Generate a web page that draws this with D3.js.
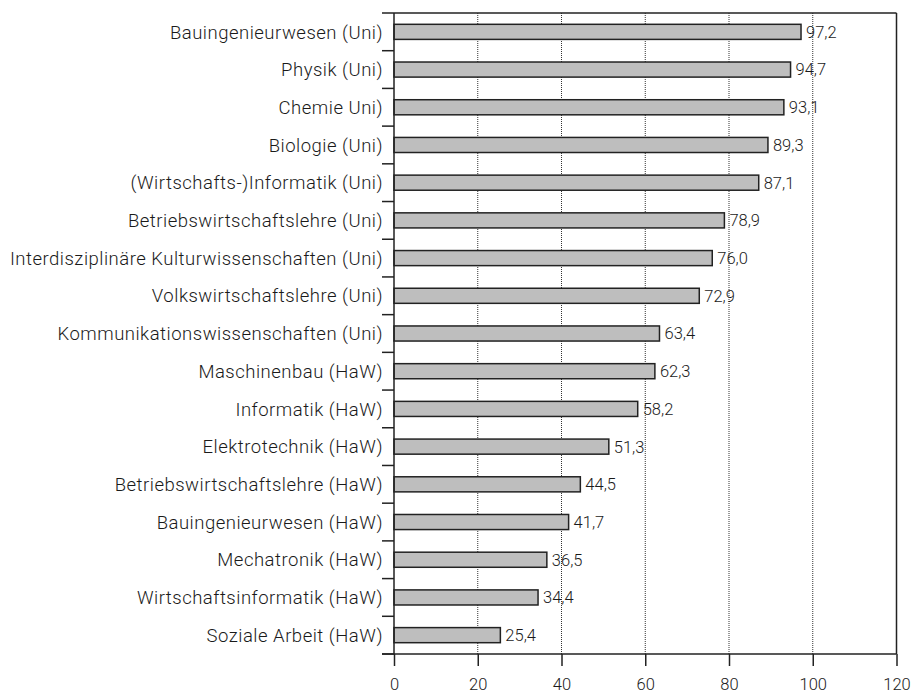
<!DOCTYPE html>
<html>
<head>
<meta charset="utf-8">
<script src="https://cdn.jsdelivr.net/npm/d3@7"></script>
<style>
  body { margin: 0; background: #fff; }
  text { font-family: Roboto, "Liberation Sans", sans-serif; font-weight: 300; fill: #1a1a1a; }
</style>
</head>
<body>
<div class="chart"></div>
<script>
// categories and values, top to bottom
var categories = [
  "Bauingenieurwesen (Uni)",
  "Physik (Uni)",
  "Chemie Uni)",
  "Biologie (Uni)",
  "(Wirtschafts-)Informatik (Uni)",
  "Betriebswirtschaftslehre (Uni)",
  "Interdisziplinäre Kulturwissenschaften (Uni)",
  "Volkswirtschaftslehre (Uni)",
  "Kommunikationswissenschaften (Uni)",
  "Maschinenbau (HaW)",
  "Informatik (HaW)",
  "Elektrotechnik (HaW)",
  "Betriebswirtschaftslehre (HaW)",
  "Bauingenieurwesen (HaW)",
  "Mechatronik (HaW)",
  "Wirtschaftsinformatik (HaW)",
  "Soziale Arbeit (HaW)"
];
var values = [97.2, 94.7, 93.1, 89.3, 87.1, 78.9, 76.0, 72.9, 63.4, 62.3, 58.2, 51.3, 44.5, 41.7, 36.5, 34.4, 25.4];
var xTicks = [0, 20, 40, 60, 80, 100, 120];

var data = categories.map(function(c, i) { return {name: c, value: values[i]}; });

var margin = {top: 13, right: 15.5, bottom: 41, left: 394},
    width = 912 - margin.left - margin.right,
    height = 695 - margin.top - margin.bottom;

var svg = d3.select(".chart").append("svg")
    .attr("width", 912)
    .attr("height", 695)
  .append("g")
    .attr("transform", "translate(" + margin.left + "," + margin.top + ")");

var x = d3.scaleLinear().domain([0, 120]).range([0, width]);
var y = d3.scaleBand().domain(categories).range([0, height]).paddingInner(0.6).paddingOuter(0.3);

var fmt = function(v) { return d3.format(".1f")(v).replace(".", ","); };

// dotted grid lines
svg.selectAll(".grid")
    .data(xTicks.filter(function(t) { return t > 0 && t < 120; }))
  .enter().append("line")
    .attr("x1", function(d) { return x(d); })
    .attr("x2", function(d) { return x(d); })
    .attr("y1", 0)
    .attr("y2", height)
    .attr("stroke", "#333")
    .attr("stroke-width", 1)
    .attr("stroke-dasharray", "1,1");

// bars
svg.selectAll(".bar")
    .data(data)
  .enter().append("rect")
    .attr("x", x(0))
    .attr("y", function(d) { return y(d.name); })
    .attr("width", function(d) { return x(d.value); })
    .attr("height", y.bandwidth())
    .attr("fill", "#bebebe")
    .attr("stroke", "#222")
    .attr("stroke-width", 1.5);

// value labels
svg.selectAll(".val")
    .data(data)
  .enter().append("text")
    .attr("x", function(d) { return x(d.value) + 5; })
    .attr("y", function(d) { return y(d.name) + y.bandwidth() / 2; })
    .attr("dy", "0.36em")
    .attr("font-size", "16.5px")
    .text(function(d) { return fmt(d.value); });

// category labels
svg.selectAll(".cat")
    .data(data)
  .enter().append("text")
    .attr("x", -11)
    .attr("y", function(d) { return y(d.name) + y.bandwidth() / 2; })
    .attr("dy", "0.36em")
    .attr("text-anchor", "end")
    .attr("font-size", "18.5px")
    .attr("letter-spacing", "0.5px")
    .text(function(d) { return d.name; });

// separator ticks between categories on the left
svg.selectAll(".sep")
    .data(d3.range(categories.length + 1))
  .enter().append("line")
    .attr("x1", -12)
    .attr("x2", 0)
    .attr("y1", function(i) { return i * height / categories.length; })
    .attr("y2", function(i) { return i * height / categories.length; })
    .attr("stroke", "#222")
    .attr("stroke-width", 1.5);

// frame: top, right, left, bottom
svg.append("line").attr("x1", 0).attr("x2", width).attr("y1", 0).attr("y2", 0)
    .attr("stroke", "#222").attr("stroke-width", 1.5);
svg.append("line").attr("x1", width).attr("x2", width).attr("y1", 0).attr("y2", height)
    .attr("stroke", "#222").attr("stroke-width", 1.5);
svg.append("line").attr("x1", 0).attr("x2", 0).attr("y1", 0).attr("y2", height)
    .attr("stroke", "#222").attr("stroke-width", 1.5);
svg.append("line").attr("x1", -12).attr("x2", width).attr("y1", height).attr("y2", height)
    .attr("stroke", "#222").attr("stroke-width", 1.5);

// x axis
var xAxis = svg.append("g")
    .attr("transform", "translate(0," + height + ")")
    .call(d3.axisBottom(x).tickValues(xTicks).tickSize(12).tickPadding(12).tickFormat(d3.format("d")));
xAxis.select(".domain").remove();
xAxis.selectAll(".tick line").attr("stroke", "#222").attr("stroke-width", 1.5);
xAxis.selectAll(".tick text").attr("font-size", "16.5px").attr("fill", "#1a1a1a")
    .style("font-family", "Roboto, sans-serif").style("font-weight", 300);
</script>
</body>
</html>
